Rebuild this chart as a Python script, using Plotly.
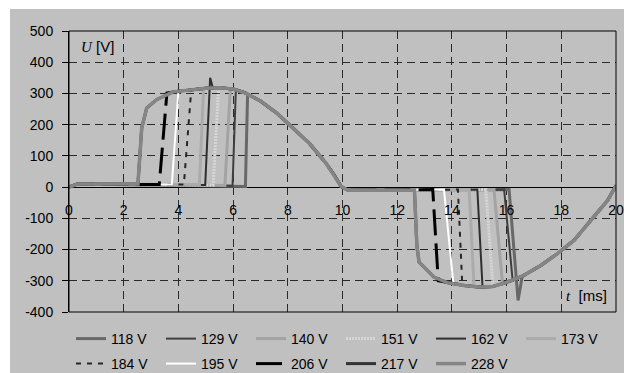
import plotly.graph_objects as go

# Supply voltage settings (one curve each)
SERIES = ["118 V", "129 V", "140 V", "151 V", "162 V", "173 V",
          "184 V", "195 V", "206 V", "217 V", "228 V"]

# Line styles per curve
COLORS = ["#686868", "#3f3f3f", "#a3a3a3", "#d6d6d6", "#2f2f2f", "#ababab",
          "#262626", "#ffffff", "#000000", "#333333", "#858585"]
WIDTHS = [3, 2, 3, 3, 2, 3, 2, 2, 3, 3, 3.5]
DASHES = ["solid", "solid", "solid", "2px,1px", "solid", "solid",
          "5px,6px", "solid", "26px,8px", "solid", "solid"]

# Start of each trace before the positive switch-on [ms], [V]
START_T = [0.0, 0.3]
START_U = [0, 10]

# Positive half: switch-on edge of each curve, (t [ms], U [V])
POS_EDGES = [
    [(6.45, 2), (6.53, 298)],
    [(5.98, 4), (6.10, 311)],
    [(5.70, 5), (5.90, 315)],
    [(5.27, 6), (5.47, 318)],
    [(4.98, 7), (5.16, 350), (5.26, 318)],
    [(4.77, 8), (4.92, 316)],
    [(4.20, 8), (4.47, 312)],
    [(3.76, 8), (4.00, 307)],
    [(3.30, 8), (3.58, 301)],
    [(2.52, 10), (2.60, 110), (2.66, 190), (2.84, 253), (3.20, 280), (3.80, 305)],
    [(2.52, 10), (2.60, 110), (2.66, 190), (2.84, 253), (3.20, 280), (3.80, 305)],
]

# Positive half-wave after switch-on (common to all curves)
POS_ENV_T = [4.0, 4.5, 5.0, 5.5, 6.0, 6.4, 7.0, 7.6, 8.2, 8.8, 9.4, 9.7, 9.95, 10.2]
POS_ENV_U = [307, 313, 317, 318, 314, 303, 276, 237, 189, 139, 76, 38, 2, -10]

# Negative half: switch-on edge of each curve, (t [ms], U [V])
NEG_EDGES = [
    [(16.09, -8), (16.42, -363), (16.56, -290)],
    [(15.91, -8), (16.22, -298)],
    [(15.54, -8), (15.85, -310)],
    [(15.24, -8), (15.48, -318)],
    [(14.93, -8), (15.12, -320)],
    [(14.63, -8), (14.81, -318)],
    [(14.22, -8), (14.38, -313)],
    [(13.71, -8), (14.05, -307)],
    [(13.30, -8), (13.50, -300)],
    [(12.63, -10), (12.68, -110), (12.72, -190), (12.80, -240), (12.98, -256),
     (13.34, -288), (13.83, -306), (14.30, -314)],
    [(12.63, -10), (12.68, -110), (12.72, -190), (12.80, -240), (12.98, -256),
     (13.34, -288), (13.83, -306), (14.30, -314)],
]

# Negative half-wave after switch-on (common to all curves)
NEG_ENV_T = [14.0, 14.5, 15.0, 15.5, 16.0, 16.6, 17.25, 17.86, 18.47, 19.08, 19.7, 20.0]
NEG_ENV_U = [-308, -316, -320, -318, -305, -284, -251, -213, -170, -106, -42, 5]

X_TICKS = [0, 2, 4, 6, 8, 10, 12, 14, 16, 18, 20]
Y_TICKS = [-400, -300, -200, -100, 0, 100, 200, 300, 400, 500]

FONT = "Liberation Sans, Arial, sans-serif"
FRAME = "#c0c0c0"


def build_curve(i):
    t = list(START_T)
    u = list(START_U)
    for edges, env_t, env_u in ((POS_EDGES, POS_ENV_T, POS_ENV_U),
                                (NEG_EDGES, NEG_ENV_T, NEG_ENV_U)):
        edge = edges[i]
        t += [p[0] for p in edge]
        u += [p[1] for p in edge]
        last = edge[-1][0]
        for tt, uu in zip(env_t, env_u):
            if tt > last:
                t.append(tt)
                u.append(uu)
    return t, u


fig = go.Figure()
for i, name in enumerate(SERIES):
    t, u = build_curve(i)
    fig.add_trace(go.Scatter(
        x=t, y=u, mode="lines", name=name,
        line=dict(color=COLORS[i], width=WIDTHS[i], dash=DASHES[i]),
        legend="legend" if i < 6 else "legend2",
    ))

W, H = 624, 373
L, R, T, B = 69, 8, 31, 61
pw, ph = W - L - R, H - T - B


def px_x(p):
    return (p - L) / pw


def px_y(p):
    return (H - B - p) / ph


legend_common = dict(
    orientation="h", xref="paper", yref="paper",
    xanchor="left", yanchor="middle",
    font=dict(family=FONT, size=14, color="black"),
    bgcolor="rgba(0,0,0,0)", borderwidth=0,
    entrywidth=42, entrywidthmode="pixels", tracegroupgap=0,
    indentation=3,
)

fig.update_layout(
    width=W, height=H,
    margin=dict(l=L, r=R, t=T, b=B, pad=0, autoexpand=False),
    paper_bgcolor="white", plot_bgcolor=FRAME,
    font=dict(family=FONT, size=14, color="black"),
    showlegend=True,
    legend=dict(x=px_x(68), y=px_y(339), **legend_common),
    legend2=dict(x=px_x(68), y=px_y(364), **legend_common),
    xaxis=dict(
        range=[0, 20], tickvals=X_TICKS, ticktext=[str(v) for v in X_TICKS],
        showgrid=True, gridcolor="#2a2a2a", gridwidth=1, griddash="8px,5px",
        zeroline=False, showline=False, ticks="",
        anchor="free", position=400 / 900,
        tickfont=dict(family=FONT, size=14, color="black"),
        ticklabelstandoff=13,
    ),
    yaxis=dict(
        range=[-400, 500], tickvals=Y_TICKS, ticktext=[str(v) for v in Y_TICKS],
        showgrid=True, gridcolor="#2a2a2a", gridwidth=1, griddash="8px,5px",
        zeroline=True, zerolinecolor="black", zerolinewidth=1,
        showline=True, linecolor="black", linewidth=1,
        ticks="outside", ticklen=6, tickcolor="black", tickwidth=1,
        tickfont=dict(family=FONT, size=14, color="black"),
        ticklabelstandoff=6,
    ),
    shapes=[
        # grey chart frame
        dict(type="rect", xref="paper", yref="paper", layer="below",
             x0=px_x(10), x1=px_x(W + 2), y0=px_y(H + 2), y1=px_y(9),
             fillcolor=FRAME, line=dict(width=0)),
        # plot area border
        dict(type="rect", xref="paper", yref="paper", layer="above",
             x0=0, x1=1, y0=0, y1=1,
             line=dict(color="black", width=1), fillcolor="rgba(0,0,0,0)"),
    ],
    annotations=[
        dict(xref="paper", yref="paper", x=px_x(79), y=px_y(46.5),
             xanchor="left", yanchor="middle", showarrow=False,
             text="<span style='font-family:Liberation Serif'><i>U</i></span> [V]",
             font=dict(family=FONT, size=15, color="black")),
        dict(xref="paper", yref="paper", x=px_x(564), y=px_y(295),
             xanchor="left", yanchor="middle", showarrow=False,
             text="<span style='font-family:Liberation Serif'><i>t</i></span>  [ms]",
             font=dict(family=FONT, size=15, color="black")),
    ],
)

fig.write_html("out.html")
